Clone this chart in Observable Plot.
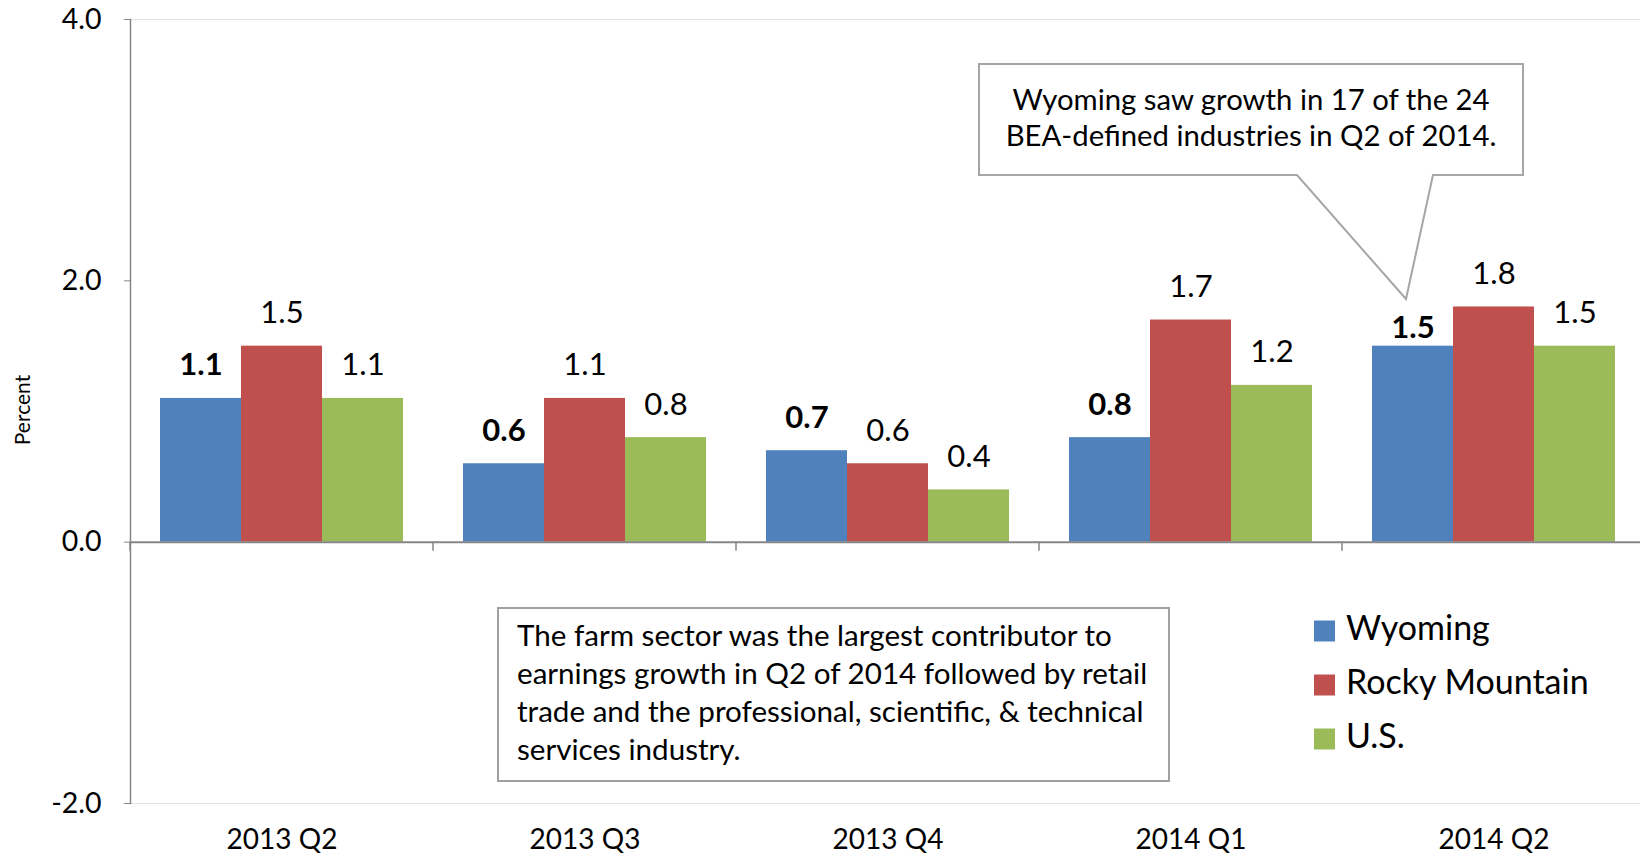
<!DOCTYPE html>
<html>
<head>
<meta charset="utf-8">
<script src="https://cdn.jsdelivr.net/npm/d3@7"></script>
<script src="https://cdn.jsdelivr.net/npm/@observablehq/plot@0.6"></script>
<style>
  html, body { margin: 0; padding: 0; background: #fff; overflow: hidden; }
  #wrap { position: relative; width: 1640px; height: 857px; overflow: hidden; }
  #wrap > svg:first-child { max-width: none !important; }
  #overlay { position: absolute; left: 0; top: 0; pointer-events: none; }
  #overlay text { font-family: Lato, sans-serif; fill: #000; }
</style>
</head>
<body>
<div id="wrap"></div>
<script>
// ---- Data ----
const quarters = ["2013 Q2", "2013 Q3", "2013 Q4", "2014 Q1", "2014 Q2"];
const seriesNames = ["Wyoming", "Rocky Mountain", "U.S."];
const wyoming = [1.1, 0.6, 0.7, 0.8, 1.5];
const rockyMountain = [1.5, 1.1, 0.6, 1.7, 1.8];
const us = [1.1, 0.8, 0.4, 1.2, 1.5];
const colors = ["#4f81bd", "#c0504d", "#9bbb59"];
const yTicks = [-2, 0, 2, 4];
const calloutTop = ["Wyoming saw growth in 17 of the 24", "BEA-defined industries in Q2 of 2014."];
const calloutBottom = [
  "The farm sector was the largest contributor to",
  "earnings growth in Q2 of 2014 followed by retail",
  "trade and the professional, scientific, & technical",
  "services industry."
];

// table built from the arrays
const valuesBySeries = [wyoming, rockyMountain, us];
const data = [];
quarters.forEach((q, i) => {
  seriesNames.forEach((s, j) => data.push({quarter: q, series: s, value: valuesBySeries[j][i]}));
});
const wyLabels = data.filter(d => d.series === "Wyoming" && d.quarter !== "2014 Q2");
const wyLastLabel = data.filter(d => d.series === "Wyoming" && d.quarter === "2014 Q2");
const otherLabels = data.filter(d => d.series !== "Wyoming");

const W = 1646, H = 857;
const axisGray = "#868686";

// boundary ticks below the zero line at each category's left edge (rendered in every facet)
const boundaryTick = (index, scales, values, dims) => {
  const y0 = scales.y(0);
  const g = d3.create("svg:g");
  g.append("line")
    .attr("x1", dims.marginLeft).attr("x2", dims.marginLeft)
    .attr("y1", y0).attr("y2", y0 + 9)
    .attr("stroke", axisGray).attr("stroke-width", 1.5);
  return g.node();
};

const chart = Plot.plot({
  width: W,
  height: H,
  marginTop: 19,
  marginBottom: 54,
  marginLeft: 128,
  marginRight: 0,
  style: {fontFamily: "Lato, sans-serif", background: "#fff", color: "#000", overflow: "visible", maxWidth: "none"},
  fx: {domain: quarters, padding: 0, label: null},
  x: {domain: seriesNames, paddingInner: 0, paddingOuter: 0.367, axis: null},
  y: {domain: [-2, 4], label: null},
  color: {domain: seriesNames, range: colors},
  marks: [
    Plot.ruleY([4, -2], {stroke: "#e3e3e3", strokeWidth: 1}),
    Plot.barY(data, {fx: "quarter", x: "series", y: "value", fill: "series"}),
    Plot.ruleY([0], {stroke: axisGray, strokeWidth: 2}),
    boundaryTick,
    Plot.frame({anchor: "left", facetAnchor: "left", stroke: axisGray, strokeWidth: 1.5}),
    Plot.axisY({ticks: yTicks, tickFormat: d => d.toFixed(1), tickSize: 6, tickPadding: 23,
      fontSize: 28.5, stroke: axisGray, label: null}),
    Plot.axisFx({anchor: "bottom", tickSize: 0, tickPadding: 26, fontSize: 28, label: null}),
    Plot.text(wyLabels, {fx: "quarter", x: "series", y: "value", text: d => d.value.toFixed(1),
      dy: -33, lineAnchor: "middle", fontSize: 31, fontWeight: "bold"}),
    Plot.text(wyLastLabel, {fx: "quarter", x: "series", y: "value", text: d => d.value.toFixed(1),
      dy: -18, lineAnchor: "middle", fontSize: 31, fontWeight: "bold"}),
    Plot.text(otherLabels, {fx: "quarter", x: "series", y: "value", text: d => d.value.toFixed(1),
      dy: -33, lineAnchor: "middle", fontSize: 31})
  ]
});

const wrap = document.getElementById("wrap");
wrap.appendChild(chart);

// ---- overlay: annotations, legend, axis title ----
const ov = d3.select(wrap).append("svg")
  .attr("id", "overlay").attr("width", 1640).attr("height", 857);

// y axis title
ov.append("text").attr("transform", "translate(25,410) rotate(-90)")
  .attr("text-anchor", "middle").attr("dominant-baseline", "middle")
  .attr("font-size", 21).text("Percent");

// top callout with pointer
ov.append("path")
  .attr("d", "M979,64 H1523 V175 H1433 L1406,299 L1297,175 H979 Z")
  .attr("fill", "#fff").attr("stroke", "#a6a6a6").attr("stroke-width", 2);
calloutTop.forEach((t, i) => {
  ov.append("text").attr("x", 1251).attr("y", 102.5 + i * 36.5)
    .attr("text-anchor", "middle").attr("dominant-baseline", "middle")
    .attr("font-size", 29.3).text(t);
});

// bottom callout
ov.append("rect").attr("x", 498).attr("y", 608).attr("width", 671).attr("height", 173)
  .attr("fill", "#fff").attr("stroke", "#a0a0a0").attr("stroke-width", 2);
calloutBottom.forEach((t, i) => {
  ov.append("text").attr("x", 517).attr("y", 638 + i * 38)
    .attr("dominant-baseline", "middle")
    .attr("font-size", 29.6).text(t);
});

// legend
seriesNames.forEach((s, i) => {
  const cy = 631 + i * 54;
  ov.append("rect").attr("x", 1314).attr("y", cy - 10.5).attr("width", 21).attr("height", 21)
    .attr("fill", colors[i]);
  ov.append("text").attr("x", 1346).attr("y", cy).attr("dominant-baseline", "middle")
    .attr("font-size", 34).text(s);
});
</script>
</body>
</html>
